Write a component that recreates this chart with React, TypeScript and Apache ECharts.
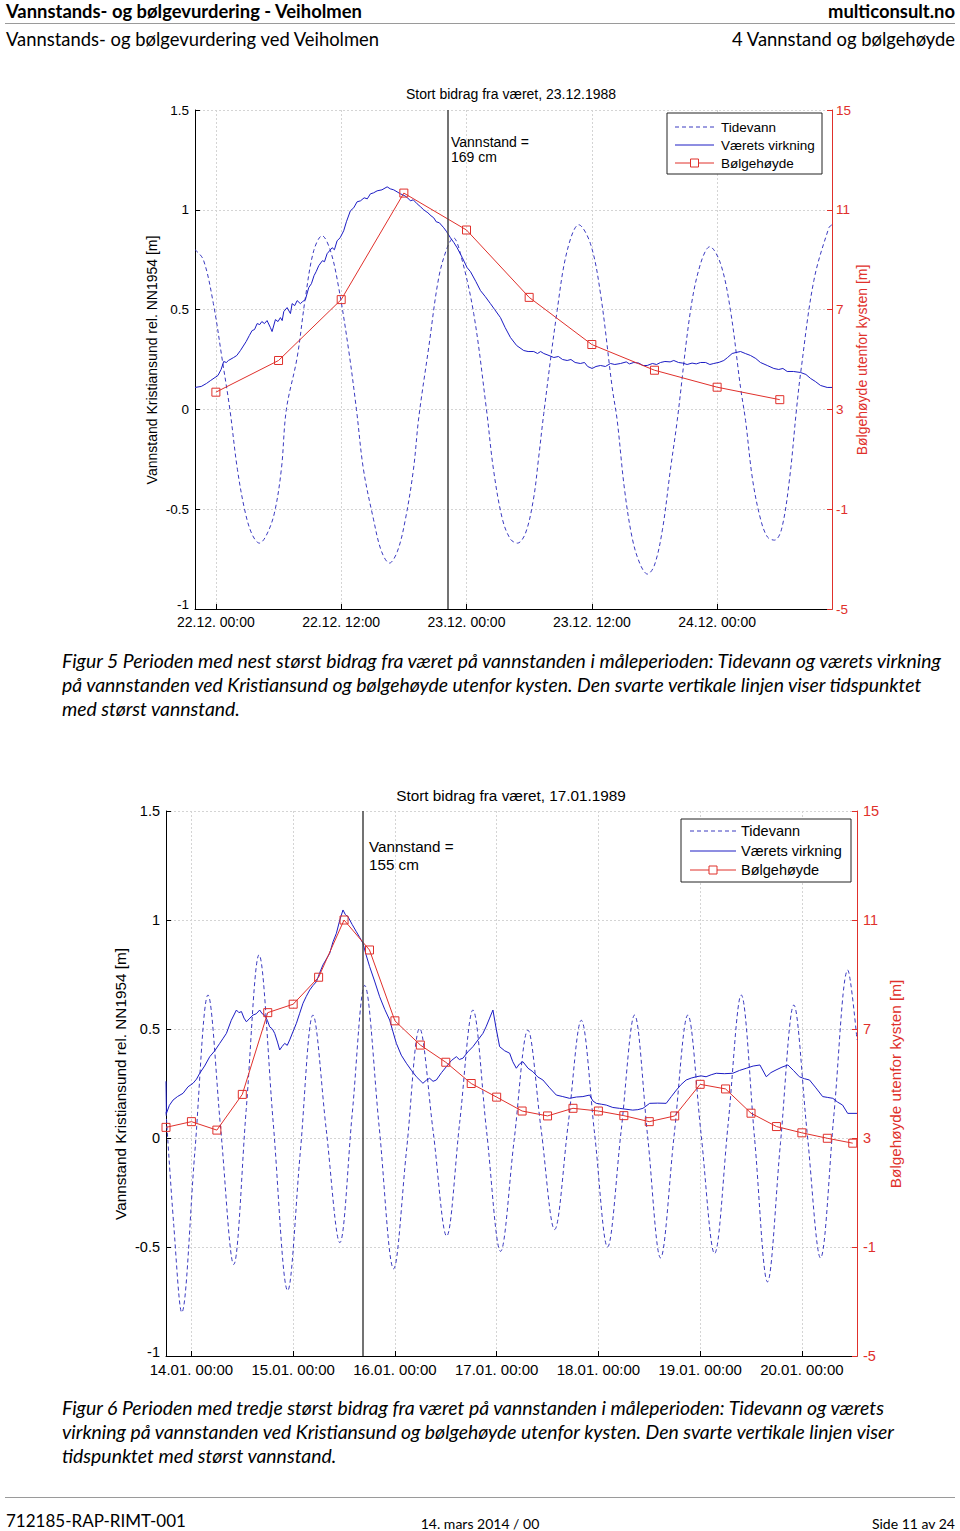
import React, { useEffect, useRef } from 'react';
import * as echarts from 'echarts';

// ---------- Figure 5 data (hours from 22.12.1988 00:00) ----------
const FIG1_TICK_HOURS = [0, 12, 24, 36, 48];
const FIG1_TICK_LABELS = ['22.12. 00:00', '22.12. 12:00', '23.12. 00:00', '23.12. 12:00', '24.12. 00:00'];
const FIG1_MAX_HOUR = 22.25;
const FIG1_WAVE_HOURS = [0, 6, 12, 18, 24, 30, 36, 42, 48, 54];
const FIG1_WAVE_VALUES = [3.69, 4.96, 7.4, 11.67, 10.19, 7.49, 5.6, 4.57, 3.89, 3.39];
const FIG1_WEATHER: number[][] = [
  [-2.0, 0.11], [-1.4, 0.115], [-0.9, 0.13], [-0.5, 0.145], [0.2, 0.17], [0.5, 0.2], [0.75, 0.24],
  [1.0, 0.235], [1.2, 0.245], [1.7, 0.26], [2.0, 0.27], [2.35, 0.295], [2.9, 0.34], [3.2, 0.37],
  [3.47, 0.395], [3.7, 0.4], [3.95, 0.43], [4.2, 0.425], [4.4, 0.44], [4.65, 0.43], [4.9, 0.445],
  [5.22, 0.41], [5.38, 0.39], [5.7, 0.45], [5.95, 0.44], [6.18, 0.46], [6.35, 0.445], [6.5, 0.49],
  [6.82, 0.51], [7.14, 0.48], [7.3, 0.53], [7.55, 0.52], [7.78, 0.545], [8.09, 0.53], [8.3, 0.54],
  [8.57, 0.55], [8.89, 0.61], [9.15, 0.63], [9.4, 0.67], [9.6, 0.69], [9.85, 0.72], [10.2, 0.745],
  [10.4, 0.74], [10.65, 0.78], [11.13, 0.81], [11.35, 0.8], [11.61, 0.845], [11.9, 0.86],
  [12.24, 0.895], [12.5, 0.94], [12.88, 0.995], [13.2, 1.01], [13.52, 1.04], [13.85, 1.045],
  [14.2, 1.06], [14.5, 1.055], [14.8, 1.08], [15.1, 1.085], [15.44, 1.095], [15.9, 1.1],
  [16.4, 1.115], [16.7, 1.105], [17.03, 1.1], [17.35, 1.09], [17.67, 1.08], [18.1, 1.07],
  [18.35, 1.06], [18.63, 1.045], [18.9, 1.05], [19.27, 1.03], [19.6, 1.015], [19.9, 1.0],
  [20.3, 0.985], [20.6, 0.97], [20.86, 0.96], [21.1, 0.94], [21.4, 0.935], [21.82, 0.91],
  [22.1, 0.89], [22.46, 0.86], [22.8, 0.835], [23.1, 0.81], [23.6, 0.76], [24.06, 0.71],
  [24.38, 0.69], [24.9, 0.64], [25.34, 0.595], [25.8, 0.565], [26.29, 0.53], [26.7, 0.5],
  [27.25, 0.46], [27.7, 0.41], [28.21, 0.36], [28.8, 0.32], [29.48, 0.295], [29.9, 0.29],
  [30.44, 0.29], [30.8, 0.28], [31.1, 0.29], [31.4, 0.28], [31.9, 0.27], [32.36, 0.26],
  [32.8, 0.265], [33.2, 0.25], [33.64, 0.245], [34.0, 0.25], [34.4, 0.235], [34.9, 0.23],
  [35.3, 0.235], [35.6, 0.215], [36.03, 0.205], [36.4, 0.215], [36.83, 0.22], [37.3, 0.215],
  [37.79, 0.23], [38.2, 0.225], [38.75, 0.23], [39.3, 0.238], [39.6, 0.228], [40.02, 0.235],
  [40.5, 0.232], [40.9, 0.22], [41.3, 0.22], [41.8, 0.23], [42.2, 0.225], [42.58, 0.235],
  [43.0, 0.24], [43.5, 0.238], [43.85, 0.245], [44.3, 0.235], [44.7, 0.232], [45.13, 0.225],
  [45.6, 0.232], [46.0, 0.228], [46.41, 0.235], [46.9, 0.235], [47.3, 0.225], [47.68, 0.23],
  [48.2, 0.236], [48.64, 0.245], [49.0, 0.26], [49.44, 0.28], [49.8, 0.285], [50.24, 0.29],
  [50.7, 0.28], [51.2, 0.27], [51.7, 0.255], [52.15, 0.235], [52.8, 0.22], [53.43, 0.205],
  [53.9, 0.2], [54.3, 0.205], [54.71, 0.19], [55.3, 0.19], [55.99, 0.185], [56.5, 0.175],
  [56.95, 0.155], [57.4, 0.14], [57.9, 0.12], [58.54, 0.11], [59.0, 0.11],
];
const FIG1_TIDE: number[][] = [
  [-2.0, 0.8], [-1.2, 0.75], [-0.24, 0.53], [0.62, 0.245], [1.34, 0.0], [2.06, -0.3], [2.83, -0.52],
  [3.5, -0.63], [4.17, -0.67], [4.84, -0.63], [5.6, -0.52], [6.27, -0.3], [6.75, 0.0], [7.78, 0.26],
  [8.57, 0.56], [9.37, 0.795], [10.17, 0.87], [10.97, 0.795], [11.76, 0.61], [12.72, 0.295],
  [13.46, 0.0], [14.13, -0.3], [15.09, -0.55], [15.85, -0.71], [16.62, -0.77], [17.39, -0.71],
  [18.15, -0.55], [18.92, -0.3], [19.43, -0.04], [20.38, 0.31], [21.34, 0.66], [22.15, 0.81],
  [22.75, 0.86], [23.42, 0.78], [24.69, 0.48], [25.91, 0.0], [26.58, -0.3], [27.44, -0.55],
  [28.21, -0.65], [28.88, -0.67], [29.65, -0.62], [30.41, -0.45], [30.89, -0.25], [31.4, -0.02],
  [32.68, 0.495], [33.64, 0.795], [34.75, 0.925], [35.87, 0.83], [36.83, 0.58], [37.95, 0.11],
  [38.43, -0.055], [39.13, -0.4], [39.89, -0.65], [40.66, -0.78], [41.33, -0.825], [42.0, -0.78],
  [42.77, -0.6], [43.53, -0.3], [44.18, -0.055], [45.45, 0.495], [46.41, 0.73], [47.3, 0.815],
  [48.33, 0.73], [49.28, 0.495], [50.24, 0.11], [50.72, -0.055], [51.39, -0.35], [52.16, -0.55],
  [52.83, -0.64], [53.5, -0.655], [54.17, -0.6], [54.93, -0.35], [55.6, 0.0], [55.99, 0.18],
  [57.26, 0.645], [58.7, 0.91], [59.0, 0.925],
];

// ---------- Figure 6 data (hours from 14.01.1989 00:00) ----------
const FIG2_TICK_HOURS = [0, 24, 48, 72, 96, 120, 144];
const FIG2_TICK_LABELS = ['14.01. 00:00', '15.01. 00:00', '16.01. 00:00', '17.01. 00:00', '18.01. 00:00', '19.01. 00:00', '20.01. 00:00'];
const FIG2_MAX_HOUR = 40.5;
const FIG2_WAVE_HOURS = [-6, 0, 6, 12, 18, 24, 30, 36, 42, 48, 54, 60, 66, 72, 78, 84, 90, 96, 102, 108, 114, 120, 126, 132, 138, 144, 150, 156];
const FIG2_WAVE_VALUES = [3.39, 3.6, 3.29, 4.6, 7.6, 7.91, 8.9, 11.0, 9.9, 7.3, 6.41, 5.78, 5.0, 4.5, 3.99, 3.81, 4.09, 3.99, 3.82, 3.6, 3.81, 4.97, 4.8, 3.91, 3.42, 3.19, 2.99, 2.81];
const FIG2_WEATHER: number[][] = [
  [-6.0, 0.26], [-5.9, 0.113], [-5.2, 0.15], [-4.34, 0.174], [-3.3, 0.19], [-1.98, 0.205],
  [-0.8, 0.235], [0.38, 0.251], [1.2, 0.27], [1.96, 0.297], [3.1, 0.33], [4.32, 0.373],
  [5.5, 0.4], [6.67, 0.434], [7.4, 0.455], [8.25, 0.48], [9.4, 0.54], [10.61, 0.587],
  [11.2, 0.575], [11.79, 0.58], [12.4, 0.55], [12.97, 0.533], [13.8, 0.55], [14.53, 0.564],
  [15.3, 0.57], [16.1, 0.587], [16.7, 0.57], [17.28, 0.564], [17.9, 0.54], [18.46, 0.51],
  [19.1, 0.5], [19.64, 0.48], [20.3, 0.44], [20.82, 0.404], [21.4, 0.42], [22.0, 0.434],
  [22.6, 0.425], [23.18, 0.45], [24.0, 0.49], [24.76, 0.526], [25.5, 0.57], [26.32, 0.618],
  [27.1, 0.65], [27.9, 0.679], [28.7, 0.7], [29.48, 0.717], [30.3, 0.76], [31.03, 0.794],
  [31.8, 0.82], [32.61, 0.847], [33.4, 0.9], [34.19, 0.939], [35.0, 1.0], [35.75, 1.046],
  [36.3, 1.025], [36.93, 1.015], [37.9, 0.98], [38.91, 0.946], [39.7, 0.92], [40.46, 0.893],
  [41.2, 0.84], [42.04, 0.786], [43.2, 0.72], [44.4, 0.648], [45.6, 0.59], [46.76, 0.541],
  [47.5, 0.49], [48.34, 0.434], [49.5, 0.38], [50.7, 0.343], [51.9, 0.31], [53.06, 0.281],
  [54.61, 0.251], [55.4, 0.265], [56.19, 0.274], [57.0, 0.26], [57.77, 0.266], [59.0, 0.3],
  [60.13, 0.327], [61.3, 0.355], [62.49, 0.373], [63.2, 0.36], [64.04, 0.366], [65.2, 0.395],
  [66.4, 0.419], [67.6, 0.45], [68.76, 0.48], [69.5, 0.51], [70.34, 0.55], [71.12, 0.587],
  [71.9, 0.5], [72.7, 0.419], [73.9, 0.4], [75.06, 0.389], [75.8, 0.35], [76.64, 0.32],
  [77.4, 0.34], [78.19, 0.35], [79.4, 0.32], [80.55, 0.304], [81.7, 0.28], [82.91, 0.266],
  [84.5, 0.23], [86.07, 0.197], [87.6, 0.19], [89.2, 0.182], [90.8, 0.188], [92.34, 0.19],
  [93.92, 0.197], [94.7, 0.17], [95.5, 0.159], [96.7, 0.155], [97.86, 0.151], [99.4, 0.14],
  [101.0, 0.136], [102.5, 0.132], [104.1, 0.128], [105.3, 0.13], [106.5, 0.136], [108.1, 0.159],
  [110.0, 0.16], [112.0, 0.159], [113.2, 0.19], [114.4, 0.22], [115.5, 0.245], [116.7, 0.266],
  [117.9, 0.275], [119.1, 0.281], [120.2, 0.285], [121.4, 0.281], [122.6, 0.29], [123.8, 0.297],
  [125.7, 0.295], [127.7, 0.297], [129.3, 0.31], [130.9, 0.32], [132.5, 0.33], [134.1, 0.335],
  [135.6, 0.281], [136.7, 0.3], [137.9, 0.312], [139.3, 0.325], [140.7, 0.335], [142.0, 0.31],
  [143.4, 0.281], [144.6, 0.272], [145.8, 0.266], [147.3, 0.23], [148.9, 0.19], [150.1, 0.186],
  [151.3, 0.182], [152.4, 0.165], [153.6, 0.151], [154.8, 0.113], [157.0, 0.113],
];
const FIG2_TIDE: number[][] = [
  [-6.0, 0.12], [-4.17, -0.4], [-2.29, -0.8], [0.78, -0.07], [3.91, 0.656], [6.91, 0.04], [9.97, -0.58],
  [12.92, 0.13], [15.94, 0.84], [19.29, 0.07], [22.71, -0.7], [25.66, -0.07], [28.67, 0.564],
  [31.79, 0.04], [35.0, -0.48], [37.92, 0.11], [40.87, 0.7], [44.29, 0.05], [47.7, -0.6],
  [50.77, -0.05], [53.83, 0.503], [57.02, 0.03], [60.2, -0.45], [63.27, 0.07], [66.4, 0.587],
  [69.63, 0.03], [72.93, -0.52], [76.12, -0.01], [79.37, 0.495], [82.48, 0.04], [85.67, -0.42],
  [88.85, 0.06], [91.96, 0.54], [95.1, 0.02], [98.16, -0.5], [101.35, 0.03], [104.53, 0.564],
  [107.6, 0.01], [110.66, -0.55], [113.85, 0.01], [117.1, 0.564], [120.21, 0.02], [123.4, -0.53],
  [126.58, 0.06], [129.69, 0.656], [132.83, 0.0], [135.89, -0.66], [138.96, -0.02], [142.1, 0.61],
  [145.21, 0.03], [148.39, -0.55], [151.57, 0.11], [154.83, 0.77], [157.0, 0.45],
];

const LEFT_TICKS = [-1, -0.5, 0, 0.5, 1, 1.5];
const RIGHT_TICKS = [-5, -1, 3, 7, 11, 15];

const CH = 'Liberation Sans, Arial, Helvetica, sans-serif';
const DOC = 'Lato, Carlito, Calibri, sans-serif';
const RED = '#e0302b';
const BLUE_SOLID = '#1c1cc4';
const BLUE_DASH = '#3a3ac0';

function txt(text: string, x: number, y: number, o: any = {}) {
  const align = o.align || 'left';
  return {
    type: 'text',
    x,
    y,
    rotation: o.rotation || 0,
    silent: true,
    z: o.z || 50,
    style: {
      text,
      fill: o.color || '#000',
      fontSize: o.size || 14,
      fontFamily: o.family || CH,
      fontWeight: o.weight || 'normal',
      fontStyle: o.style || 'normal',
      textAlign: align,
      align,
      textVerticalAlign: 'middle',
      verticalAlign: 'middle',
    },
  };
}

function hline(x1: number, y1: number, x2: number, y2: number, color: string, width = 1, dash?: number[]) {
  return {
    type: 'line',
    silent: true,
    z: 60,
    shape: { x1, y1, x2, y2 },
    style: { stroke: color, lineWidth: width, lineDash: dash || null },
  };
}

function legend(x: number, y: number, w: number, h: number, rowsY: number[], lx1: number, lx2: number, tx: number, fs: number) {
  const mid = (lx1 + lx2) / 2;
  return [
    { type: 'rect', silent: true, z: 55, shape: { x, y, width: w, height: h }, style: { fill: '#fff', stroke: '#222', lineWidth: 1 } },
    hline(lx1, rowsY[0], lx2, rowsY[0], BLUE_DASH, 1, [4, 3]),
    hline(lx1, rowsY[1], lx2, rowsY[1], BLUE_SOLID, 1),
    hline(lx1, rowsY[2], lx2, rowsY[2], RED, 1),
    { type: 'rect', silent: true, z: 61, shape: { x: mid - 4, y: rowsY[2] - 4, width: 8, height: 8 }, style: { fill: '#fff', stroke: RED, lineWidth: 1 } },
    txt('Tidevann', tx, rowsY[0], { size: fs, z: 62 }),
    txt('Værets virkning', tx, rowsY[1], { size: fs, z: 62 }),
    txt('Bølgehøyde', tx, rowsY[2], { size: fs, z: 62 }),
  ];
}

function xAx(gi: number, min: number, max: number, ticks: number[], labels: string[], fs: number) {
  return {
    type: 'value',
    gridIndex: gi,
    min,
    max,
    axisLine: { onZero: false, lineStyle: { color: '#000', width: 1 } },
    axisTick: { inside: true, length: 5, customValues: ticks, lineStyle: { color: '#000' } },
    axisLabel: {
      customValues: ticks,
      margin: 6,
      fontSize: fs,
      fontFamily: CH,
      color: '#000',
      formatter: (v: number) => {
        const i = ticks.indexOf(v);
        return i >= 0 ? labels[i] : '';
      },
    },
    splitLine: { show: true, lineStyle: { color: '#d4d4d4', width: 1, type: [2, 2] } },
  };
}

function yLeft(gi: number, fs: number) {
  return {
    type: 'value',
    gridIndex: gi,
    position: 'left',
    min: LEFT_TICKS[0],
    max: LEFT_TICKS[LEFT_TICKS.length - 1],
    interval: 0.5,
    axisLine: { show: true, onZero: false, lineStyle: { color: '#000', width: 1 } },
    axisTick: { show: true, inside: true, length: 5, lineStyle: { color: '#000' } },
    axisLabel: {
      margin: 6,
      fontSize: fs,
      fontFamily: CH,
      color: '#000',
      formatter: (v: number) => (v === LEFT_TICKS[0] ? '{low|' + v + '}' : String(v)),
      rich: { low: { fontSize: fs, fontFamily: CH, color: '#000', padding: [0, 0, 9, 0] } },
    },
    splitLine: { show: true, lineStyle: { color: '#d4d4d4', width: 1, type: [2, 2] } },
  };
}

function yRight(gi: number, fs: number, margin: number) {
  return {
    type: 'value',
    gridIndex: gi,
    position: 'right',
    min: RIGHT_TICKS[0],
    max: RIGHT_TICKS[RIGHT_TICKS.length - 1],
    alignTicks: false,
    axisLine: { show: true, onZero: false, lineStyle: { color: RED, width: 1 } },
    axisTick: { show: true, inside: true, length: 5, customValues: RIGHT_TICKS, lineStyle: { color: RED } },
    axisLabel: { customValues: RIGHT_TICKS, margin, fontSize: fs, fontFamily: CH, color: RED },
    splitLine: { show: false },
  };
}

function seriesFor(gi: number, tide: number[][], weather: number[][], waveH: number[], waveV: number[], maxHour: number) {
  return [
    {
      name: 'Tidevann',
      type: 'line',
      xAxisIndex: gi,
      yAxisIndex: gi * 2,
      data: tide,
      symbol: 'none',
      smooth: 0.35,
      lineStyle: { color: BLUE_DASH, width: 1, type: [4, 3] },
      z: 2,
    },
    {
      name: 'Værets virkning',
      type: 'line',
      xAxisIndex: gi,
      yAxisIndex: gi * 2,
      data: weather,
      symbol: 'none',
      lineStyle: { color: BLUE_SOLID, width: 1 },
      z: 3,
      markLine: {
        silent: true,
        symbol: 'none',
        label: { show: false },
        lineStyle: { color: '#444', width: 1.5, type: 'solid' },
        data: [{ xAxis: maxHour }],
      },
    },
    {
      name: 'Bølgehøyde',
      type: 'line',
      xAxisIndex: gi,
      yAxisIndex: gi * 2 + 1,
      data: waveH.map((h, i) => [h, waveV[i]]),
      symbol: 'rect',
      symbolSize: 8,
      itemStyle: { color: 'rgba(255,255,255,0)', borderColor: RED, borderWidth: 1 },
      lineStyle: { color: RED, width: 1 },
      z: 4,
    },
  ];
}

export default function App() {
  const ref = useRef<HTMLDivElement>(null);
  useEffect(() => {
    if (!ref.current) return;
    const chart = echarts.init(ref.current, null, { renderer: 'svg' });
    const caption = { size: 19.4, family: DOC, style: 'italic' };
    const head = 18.4;
    const elements: any[] = [
      // page header
      txt('Vannstands- og bølgevurdering - Veiholmen', 6, 11, { size: head, family: DOC, weight: 'bold' }),
      txt('multiconsult.no', 955, 11, { size: head, family: DOC, weight: 'bold', align: 'right' }),
      hline(5, 23.5, 955, 23.5, '#9a9a9a', 1),
      txt('Vannstands- og bølgevurdering ved Veiholmen', 6, 39, { size: head, family: DOC }),
      txt('4 Vannstand og bølgehøyde', 955, 39, { size: head, family: DOC, align: 'right' }),

      // figure 5 decorations
      txt('Stort bidrag fra været, 23.12.1988', 511, 94, { size: 14, align: 'center' }),
      txt('Vannstand =', 451, 142, { size: 14 }),
      txt('169 cm', 451, 157, { size: 14 }),
      txt('Vannstand Kristiansund rel. NN1954 [m]', 152, 360, { size: 14, align: 'center', rotation: Math.PI / 2 }),
      txt('Bølgehøyde utenfor kysten [m]', 862, 360, { size: 14, align: 'center', rotation: Math.PI / 2, color: RED }),
      ...legend(667, 113, 155, 61, [127, 145, 163], 675, 714, 721, 13.5),

      // caption 5
      txt('Figur 5 Perioden med nest størst bidrag fra været på vannstanden i måleperioden: Tidevann og værets virkning', 62, 660, caption),
      txt('på vannstanden ved Kristiansund og bølgehøyde utenfor kysten. Den svarte vertikale linjen viser tidspunktet', 62, 684, caption),
      txt('med størst vannstand.', 62, 708, caption),

      // figure 6 decorations
      txt('Stort bidrag fra været, 17.01.1989', 511, 795, { size: 15.3, align: 'center' }),
      txt('Vannstand =', 369, 846, { size: 15.2 }),
      txt('155 cm', 369, 864, { size: 15.2 }),
      txt('Vannstand Kristiansund rel. NN1954 [m]', 120, 1084, { size: 15.3, align: 'center', rotation: Math.PI / 2 }),
      txt('Bølgehøyde utenfor kysten [m]', 895, 1084, { size: 15.3, align: 'center', rotation: Math.PI / 2, color: RED }),
      ...legend(681, 819, 170, 63, [831, 851, 870], 690, 736, 741, 14.5),

      // caption 6
      txt('Figur 6 Perioden med tredje størst bidrag fra været på vannstanden i måleperioden: Tidevann og værets', 62, 1407, caption),
      txt('virkning på vannstanden ved Kristiansund og bølgehøyde utenfor kysten. Den svarte vertikale linjen viser', 62, 1431, caption),
      txt('tidspunktet med størst vannstand.', 62, 1455, caption),

      // footer
      hline(5, 1497.5, 955, 1497.5, '#9a9a9a', 1),
      txt('712185-RAP-RIMT-001', 6, 1520, { size: 17, family: DOC }),
      txt('14. mars 2014 / 00', 480, 1523, { size: 14, family: DOC, align: 'center' }),
      txt('Side 11 av 24', 955, 1523, { size: 14, family: DOC, align: 'right' }),
    ];

    const option: any = {
      animation: false,
      backgroundColor: '#ffffff',
      grid: [
        { left: 195, top: 110, width: 637, height: 499 },
        { left: 166, top: 811, width: 691, height: 545 },
      ],
      xAxis: [
        xAx(0, -2, 59, FIG1_TICK_HOURS, FIG1_TICK_LABELS, 14),
        xAx(1, -6, 157, FIG2_TICK_HOURS, FIG2_TICK_LABELS, 15),
      ],
      yAxis: [yLeft(0, 13.5), yRight(0, 13.5, 4), yLeft(1, 14.5), yRight(1, 14.5, 6)],
      series: [
        ...seriesFor(0, FIG1_TIDE, FIG1_WEATHER, FIG1_WAVE_HOURS, FIG1_WAVE_VALUES, FIG1_MAX_HOUR),
        ...seriesFor(1, FIG2_TIDE, FIG2_WEATHER, FIG2_WAVE_HOURS, FIG2_WAVE_VALUES, FIG2_MAX_HOUR),
      ],
      graphic: { elements },
    };
    chart.setOption(option);
    return () => chart.dispose();
  }, []);
  return <div ref={ref} style={{ position: 'absolute', left: 0, top: 0, width: 960, height: 1531, background: '#fff' }} />;
}
